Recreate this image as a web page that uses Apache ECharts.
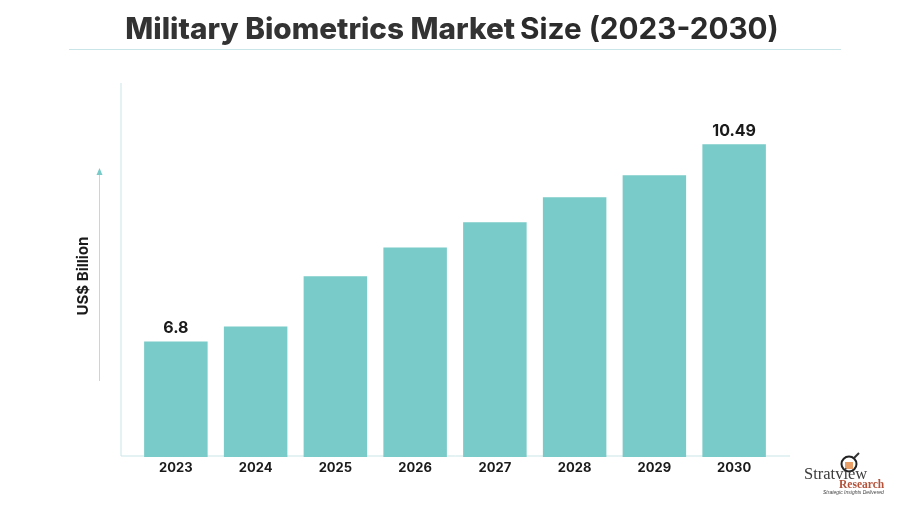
<!DOCTYPE html>
<html style="height: 100%">
<head>
    <meta charset="utf-8">
</head>
<body style="height: 100%; margin: 0; background: #fff">
<div id="container" style="width: 914px; height: 507px"></div>
<script src="https://cdn.jsdelivr.net/npm/echarts@6/dist/echarts.min.js"></script>
<script type="text/javascript">
    var years = ['2023', '2024', '2025', '2026', '2027', '2028', '2029', '2030'];
    var marketSize = [6.8, 7.08, 8.02, 8.56, 9.03, 9.5, 9.91, 10.49];
    // only first and last bars carry a label in the picture
    var labelledYears = ['2023', '2030'];

    var FONT = 'Inter';
    var TEAL = '#78cbc8';
    var LINE = '#c9e5e8';

    var myChart = echarts.init(document.getElementById('container'));

    var option = {
        animation: false,
        backgroundColor: '#fff',
        title: {
            text: '{a|Military Biometrics Market} {b|Size (2023-2030)}',
            left: 447,
            top: 10,
            textAlign: 'center',
            textStyle: {
                rich: {
                    a: { fontFamily: FONT, fontSize: 29.7, fontWeight: 800, color: '#333333' },
                    b: { fontFamily: FONT, fontSize: 29.7, fontWeight: 700, color: '#2b2b2b' }
                }
            }
        },
        grid: { left: 136, top: 84, width: 638, height: 373 },
        xAxis: {
            type: 'category',
            data: years,
            axisLine: { show: false },
            axisTick: { show: false },
            axisLabel: { margin: 5, fontFamily: FONT, fontSize: 13, fontWeight: 700, color: '#1a1a1a' }
        },
        yAxis: {
            type: 'value',
            min: 4.637,
            max: 11.62,
            name: 'US$ Billion',
            nameLocation: 'middle',
            nameGap: 45,
            nameTextStyle: { fontFamily: FONT, fontSize: 15, fontWeight: 700, color: '#1a1a1a', padding: [0, 11, 0, 0] },
            axisLine: { show: false },
            axisTick: { show: false },
            axisLabel: { show: false },
            splitLine: { show: false }
        },
        series: [{
            type: 'bar',
            barWidth: 63.5,
            itemStyle: { color: TEAL },
            label: {
                show: true,
                position: 'top',
                distance: 5,
                fontFamily: FONT,
                fontSize: 16,
                fontWeight: 700,
                color: '#1a1a1a',
                formatter: function (p) {
                    return labelledYears.indexOf(p.name) >= 0 ? String(p.value) : '';
                }
            },
            data: marketSize
        }],
        graphic: [
            // rule under the title
            { type: 'line', shape: { x1: 69, y1: 49.5, x2: 841, y2: 49.5 }, style: { stroke: LINE, lineWidth: 1 } },
            // axis lines run past the bars
            { type: 'line', shape: { x1: 121, y1: 83, x2: 121, y2: 456 }, style: { stroke: LINE, lineWidth: 1 } },
            { type: 'line', shape: { x1: 121, y1: 456, x2: 790, y2: 456 }, style: { stroke: LINE, lineWidth: 1 } },
            // arrow beside the y name
            { type: 'line', shape: { x1: 99.5, y1: 381, x2: 99.5, y2: 172 }, style: { stroke: '#b5dedd', lineWidth: 1 } },
            { type: 'polygon', shape: { points: [[99.5, 168], [96.5, 175], [102.5, 175]] }, style: { fill: TEAL } },
            // logo
            { type: 'circle', shape: { cx: 849, cy: 464, r: 7.5 }, style: { fill: '#fff', stroke: '#222', lineWidth: 2 } },
            { type: 'rect', shape: { x: 845, y: 462, width: 8, height: 7 }, style: { fill: '#e8a068' } },
            { type: 'line', shape: { x1: 854, y1: 458, x2: 859, y2: 453 }, style: { stroke: '#333', lineWidth: 2 } },
            { type: 'text', x: 804, y: 466, style: { text: 'Stratview', fontFamily: 'Liberation Serif', fontSize: 16.5, fill: '#3c3c3c' } },
            { type: 'text', x: 839, y: 479, style: { text: 'Research', fontFamily: 'Liberation Serif', fontSize: 11.5, fontWeight: 700, fill: '#b5523a' } },
            { type: 'text', x: 823, y: 490, style: { text: 'Strategic Insights Delivered', fontFamily: 'Liberation Sans', fontSize: 5, fontStyle: 'italic', fill: '#444' } }
        ]
    };

    myChart.setOption(option);
</script>
</body>
</html>
